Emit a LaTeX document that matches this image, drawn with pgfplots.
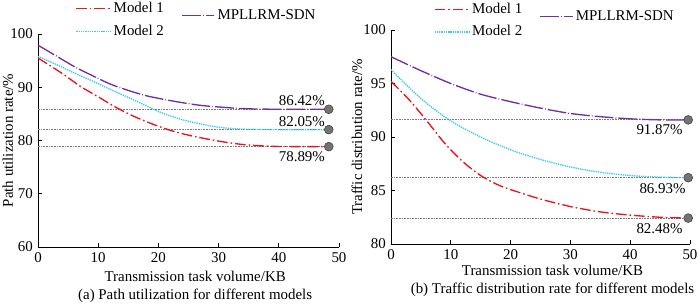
\documentclass[border=0pt]{standalone}
\usepackage{fontspec}
\setmainfont{Liberation Serif}
\usepackage{pgfplots}
\pgfplotsset{compat=1.18}
\definecolor{mred}{RGB}{235,20,30}
\definecolor{mcyan}{RGB}{60,200,245}
\definecolor{mpurple}{RGB}{112,48,160}
\definecolor{refgray}{RGB}{120,120,120}
\definecolor{dotfill}{RGB}{115,115,115}
\pgfplotsset{
  myaxis/.style={
    scale only axis,
    axis x line*=bottom, axis y line*=left,
    axis line style={black, line width=0.6pt, -},
    tick align=inside, major tick length=3pt,
    tick style={black, line width=0.6pt},
    xmin=0, xmax=50, xtick={0,10,...,50},
    /pgf/number format/assume math mode=true,
    legend columns=2,
    legend cell align=left,
    legend style={draw=none, fill=none, inner sep=0pt, row sep=-1.5pt,
      /tikz/every even column/.append style={column sep=11pt},
      at={(axis description cs:0,1)}, anchor=north west, xshift=28pt, yshift=26pt},
    legend image code/.code={\draw[#1] (0cm,0cm) -- (0.9cm,0cm);},
    m1/.style={mred, line width=1pt, dash pattern=on 8pt off 2.2pt on 1.2pt off 2.2pt, smooth},
    m2/.style={mcyan, line width=1pt, dash pattern=on 1pt off 0.7pt, smooth},
    m3/.style={mpurple, line width=1pt, dash pattern=on 14pt off 1.6pt on 0.6pt off 1.6pt, smooth,
      legend image code/.code={\draw[##1, yshift=-5.25pt] (0cm,0cm) -- (0.85cm,0cm);}},
    rl/.style={refgray, line width=0.9pt, dash pattern=on 1.2pt off 0.8pt, forget plot},
    ed/.style={only marks, mark=*, mark size=3.3pt, mark options={fill=dotfill, draw=black!70, line width=0.5pt}, forget plot},
    xlabel style={at={(axis description cs:0.5,0)}, anchor=north, yshift=-14pt, align=center},
    ylabel style={anchor=center, rotate=0},
  }
}
\begin{document}
\fontsize{11.2pt}{13.6pt}\selectfont
\begin{tikzpicture}
% ---------------- (a) ----------------
\begin{axis}[myaxis,
  at={(0pt,0pt)}, anchor=south west,
  width=225.75pt, height=159.75pt,
  ymin=60, ymax=100, ytick={60,70,...,100},
  xlabel={Transmission task volume/KB\\(a) Path utilization for different models},
  xlabel style={xshift=5pt},
  ylabel={Path utilization rate/\%},
  ylabel style={at={(axis description cs:-0.1,0.5)}},
]
\addplot[rl] coordinates {(0,85.86) (48.3,85.86)};
\addplot[rl] coordinates {(0,82.05) (48.3,82.05)};
\addplot[rl] coordinates {(0,78.85) (48.3,78.85)};
\addplot[m1] coordinates {(0,95.5) (4,92.6) (7,90.2) (10,88.2) (13,86.2) (16,84.5) (19,83.1) (22,81.9) (25,81.0) (28,80.3) (31,79.7) (34,79.25) (37,79.0) (40,78.88) (44,78.85) (48.3,78.85)};
\addlegendentry{Model 1}
\addplot[m3] coordinates {(0,97.9) (3,95.9) (6,93.9) (9,92.2) (12,90.6) (15,89.4) (18,88.4) (21,87.7) (24,87.1) (27,86.6) (30,86.3) (33,86.05) (36,85.92) (40,85.87) (44,85.86) (48.3,85.86)};
\addlegendentry[yshift=-5.25pt]{MPLLRM-SDN}
\addplot[m2] coordinates {(0,95.8) (3,94.3) (6,92.7) (9,91.2) (12,89.6) (15,88.1) (18,86.5) (21,85.0) (24,83.9) (27,83.1) (30,82.5) (33,82.2) (36,82.08) (40,82.05) (44,82.05) (48.3,82.05)};
\addlegendentry{Model 2}
\addplot[ed] coordinates {(48.3,85.86) (48.3,82.05) (48.3,78.85)};
\node[anchor=east, inner sep=0pt] at (axis cs:47.7,87.5) {86.42\%};
\node[anchor=east, inner sep=0pt] at (axis cs:47.7,83.5) {82.05\%};
\node[anchor=east, inner sep=0pt] at (axis cs:47.7,76.9) {78.89\%};
\end{axis}
% ---------------- (b) ----------------
\begin{axis}[myaxis,
  at={(264.75pt,2.25pt)}, anchor=south west,
  width=224.25pt, height=160.5pt,
  ymin=80, ymax=100, ytick={80,85,...,100},
  xlabel={Transmission task volume/KB\\(b) Traffic distribution rate for different models},
  xlabel style={xshift=9pt, yshift=2.25pt},
  ylabel={Traffic distribution rate/\%},
  ylabel style={at={(axis description cs:-0.114,0.5)}},
  legend style={yshift=-3.5pt, xshift=4pt},
]
\addplot[rl] coordinates {(0,91.6) (49.7,91.6)};
\addplot[rl] coordinates {(0,86.2) (49.7,86.2)};
\addplot[rl] coordinates {(0,82.42) (49.7,82.42)};
\addplot[m1] coordinates {(0,95.2) (3,93.5) (6,91.5) (9,89.4) (12,87.7) (15,86.4) (18,85.5) (21,84.9) (25,84.2) (30,83.5) (35,83.0) (40,82.7) (45,82.5) (49.7,82.42)};
\addlegendentry{Model 1}
\addplot[m3] coordinates {(0,97.5) (5,96.2) (10,95.0) (15,94.0) (20,93.3) (25,92.7) (30,92.2) (35,91.9) (40,91.7) (45,91.6) (49.7,91.6)};
\addlegendentry[yshift=-5.25pt]{MPLLRM-SDN}
\addplot[m2] coordinates {(0,96.3) (5,93.6) (10,91.5) (15,90.0) (20,88.8) (25,87.9) (30,87.2) (35,86.7) (40,86.4) (45,86.25) (49.7,86.2)};
\addlegendentry{Model 2}
\addplot[ed] coordinates {(49.7,91.6) (49.7,86.2) (49.7,82.42)};
\node[anchor=east, inner sep=0pt] at (axis cs:48.8,90.65) {91.87\%};
\node[anchor=east, inner sep=0pt] at (axis cs:49.3,85.14) {86.93\%};
\node[anchor=east, inner sep=0pt] at (axis cs:48.8,81.4) {82.48\%};
\end{axis}
\pgfresetboundingbox
\path (-28.5pt,-42.75pt) rectangle (496.5pt,185.25pt);
\end{tikzpicture}
\end{document}
